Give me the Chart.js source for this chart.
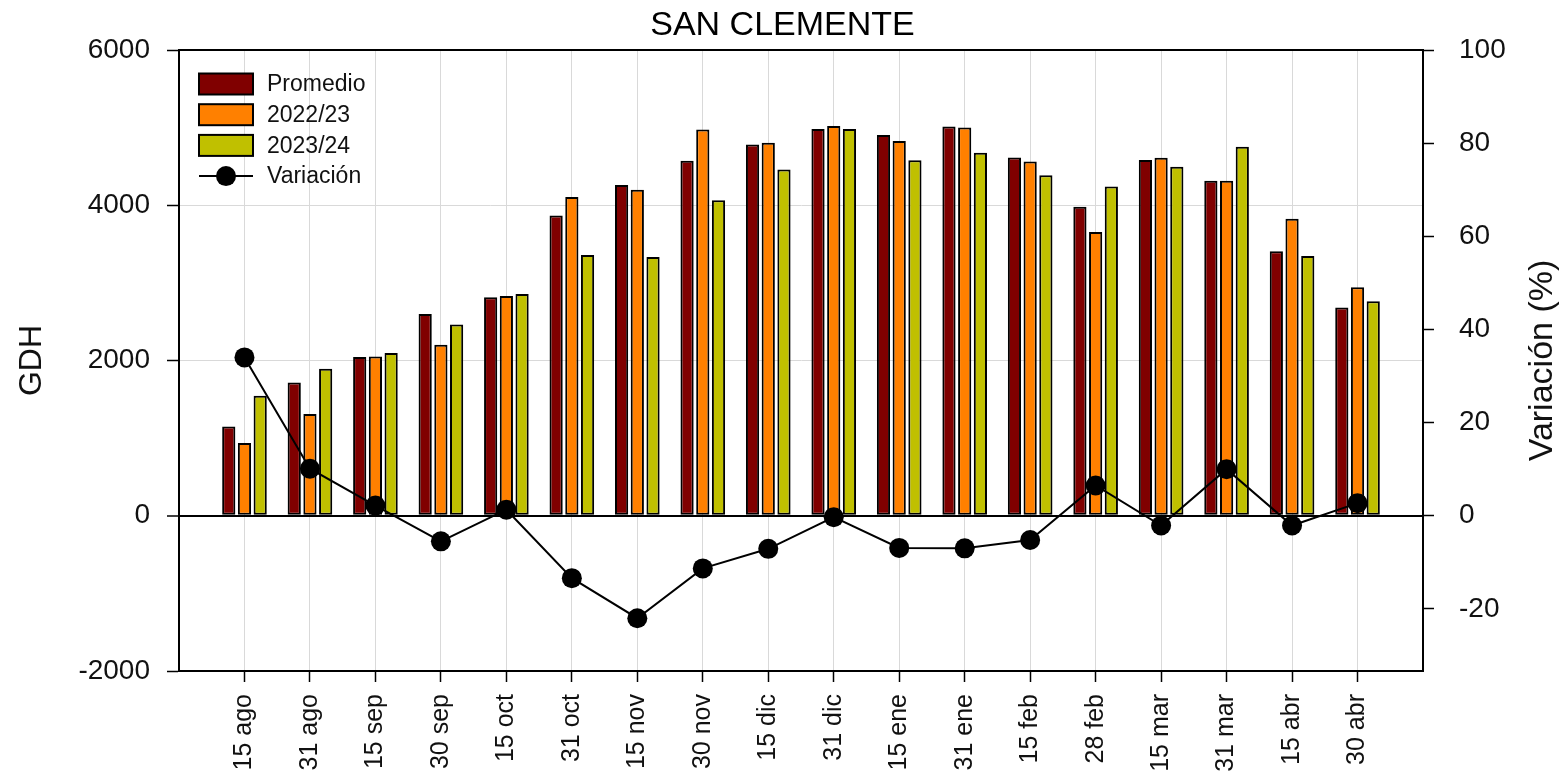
<!DOCTYPE html>
<html>
<head>
<meta charset="utf-8">
<script src="https://cdn.jsdelivr.net/npm/chart.js@4"></script>
<style>
  body { margin: 0; background: #fff; }
  #wrap { width: 1565px; height: 784px; }
</style>
</head>
<body>
<div id="wrap"><canvas id="gdhChart"></canvas></div>
<script>
// fechas (categorias del eje x)
const fechas = ['15 ago', '31 ago', '15 sep', '30 sep', '15 oct', '31 oct', '15 nov', '30 nov', '15 dic',
    '31 dic', '15 ene', '31 ene', '15 feb', '28 feb', '15 mar', '31 mar', '15 abr', '30 abr'];

// GDH acumulados
const promedio = [1150, 1717, 2044, 2598, 2815, 3868, 4260, 4572, 4782, 4982, 4905, 5015, 4614, 3980, 4583, 4316, 3407, 2683];
const temp2223 = [936, 1310, 2052, 2203, 2830, 4105, 4199, 4977, 4805, 5020, 4829, 5001, 4562, 3656, 4611, 4316, 3826, 2945];
const temp2324 = [1546, 1894, 2096, 2464, 2856, 3358, 3332, 4066, 4462, 4982, 4581, 4676, 4385, 4242, 4497, 4754, 3345, 2764];

// variacion (%) 2023/24 vs promedio
const variacion = [34.0, 10.1, 2.2, -5.5, 1.3, -13.4, -22.0, -11.3, -7.1, -0.3, -6.9, -7.0, -5.2, 6.5, -2.1, 10.0, -2.1, 2.7];

const gdhTicks = [-2000, 0, 2000, 4000, 6000];
const varTicks = [-20, 0, 20, 40, 60, 80, 100];

const FONT = '"Liberation Sans", Arial, sans-serif';

// empty slot on each side so the groups sit one step in from the frame
const pad = arr => [null, ...arr, null];
const labels = ['', ...fechas, ''];
const lastIdx = labels.length - 1;

// frame, custom legend and right-hand axis title
const extras = {
    id: 'extras',
    afterDraw(chart) {
        const { ctx, chartArea } = chart;
        ctx.save();
        // top border
        ctx.strokeStyle = '#000';
        ctx.lineWidth = 2;
        ctx.beginPath();
        ctx.moveTo(chartArea.left, chartArea.top);
        ctx.lineTo(chartArea.right, chartArea.top);
        ctx.stroke();

        // legend inside the plot
        const x0 = chartArea.left + 20;
        const boxW = 54, boxH = 21;
        ctx.font = '23px ' + FONT;
        ctx.textBaseline = 'middle';
        ctx.textAlign = 'left';
        chart.data.datasets.forEach((ds, i) => {
            const y = chartArea.top + 34 + i * 30.7;
            if (ds.type === 'line') {
                ctx.strokeStyle = '#000';
                ctx.lineWidth = 2;
                ctx.beginPath();
                ctx.moveTo(x0, y);
                ctx.lineTo(x0 + boxW, y);
                ctx.stroke();
                ctx.fillStyle = '#000';
                ctx.beginPath();
                ctx.arc(x0 + boxW / 2, y, 10, 0, Math.PI * 2);
                ctx.fill();
            } else {
                ctx.fillStyle = ds.backgroundColor;
                ctx.fillRect(x0, y - boxH / 2, boxW, boxH);
                ctx.strokeStyle = '#000';
                ctx.lineWidth = 2;
                ctx.strokeRect(x0, y - boxH / 2, boxW, boxH);
            }
            ctx.fillStyle = '#111';
            ctx.fillText(ds.label, x0 + boxW + 14, y + 1);
        });

        // right axis title, reading bottom to top
        ctx.font = '34px ' + FONT;
        ctx.fillStyle = '#111';
        ctx.textAlign = 'center';
        ctx.translate(1543, (chartArea.top + chartArea.bottom) / 2);
        ctx.rotate(-Math.PI / 2);
        ctx.fillText('Variación (%)', 0, 0);
        ctx.restore();
    }
};

const canvas = document.getElementById('gdhChart');
new Chart(canvas.getContext('2d'), {
    data: {
        labels: labels,
        datasets: [
            {
                type: 'bar', label: 'Promedio', data: pad(promedio),
                backgroundColor: '#800000', borderColor: '#000', borderWidth: 2,
                borderSkipped: false, yAxisID: 'y', order: 1
            },
            {
                type: 'bar', label: '2022/23', data: pad(temp2223),
                backgroundColor: '#ff8000', borderColor: '#000', borderWidth: 2,
                borderSkipped: false, yAxisID: 'y', order: 1
            },
            {
                type: 'bar', label: '2023/24', data: pad(temp2324),
                backgroundColor: '#c0c000', borderColor: '#000', borderWidth: 2,
                borderSkipped: false, yAxisID: 'y', order: 1
            },
            {
                type: 'line', label: 'Variación', data: pad(variacion),
                borderColor: '#000', borderWidth: 2, pointRadius: 10,
                pointBackgroundColor: '#000', pointBorderWidth: 0,
                tension: 0, yAxisID: 'y1', order: 0
            }
        ]
    },
    options: {
        responsive: true,
        maintainAspectRatio: false,
        animation: false,
        layout: { padding: 0 },
        datasets: {
            bar: { categoryPercentage: 0.72, barPercentage: 0.84 }
        },
        scales: {
            x: {
                type: 'category',
                offset: false,
                grid: {
                    offset: false,
                    color: '#d9d9d9',
                    lineWidth: 1,
                    tickLength: 11,
                    tickWidth: 1.5,
                    tickColor: ctx => (ctx.index === 0 || ctx.index === lastIdx) ? 'rgba(0,0,0,0)' : '#000'
                },
                border: { color: '#000', width: 2 },
                ticks: {
                    autoSkip: false,
                    minRotation: 90,
                    maxRotation: 90,
                    padding: 12,
                    color: '#111',
                    font: { family: FONT, size: 25 }
                },
                afterFit: scale => { scale.height = 113; }
            },
            y: {
                type: 'linear',
                position: 'left',
                min: -2000,
                max: 6000,
                afterBuildTicks: scale => { scale.ticks = gdhTicks.map(v => ({ value: v })); },
                grid: {
                    color: ctx => ctx.tick && ctx.tick.value === 0 ? '#000' : '#d9d9d9',
                    lineWidth: ctx => ctx.tick && ctx.tick.value === 0 ? 2 : 1,
                    tickColor: '#000',
                    tickWidth: 1.5,
                    tickLength: 12
                },
                border: { color: '#000', width: 2 },
                ticks: {
                    padding: 17,
                    color: '#111',
                    font: { family: FONT, size: 28 },
                    callback: v => String(v)
                },
                title: {
                    display: true,
                    text: 'GDH',
                    color: '#111',
                    font: { family: FONT, size: 32 },
                    padding: { top: 13, bottom: 0 }
                },
                afterFit: scale => { scale.width = 179; }
            },
            y1: {
                type: 'linear',
                position: 'right',
                min: -100 / 3,
                max: 100,
                afterBuildTicks: scale => { scale.ticks = varTicks.map(v => ({ value: v })); },
                grid: {
                    drawOnChartArea: false,
                    tickColor: '#000',
                    tickWidth: 1.5,
                    tickLength: 11
                },
                border: { color: '#000', width: 2 },
                ticks: {
                    padding: 25,
                    color: '#111',
                    font: { family: FONT, size: 28 },
                    callback: v => String(v)
                },
                afterFit: scale => { scale.width = 142; }
            }
        },
        plugins: {
            legend: { display: false },
            tooltip: { enabled: false },
            title: {
                display: true,
                text: 'SAN CLEMENTE',
                color: '#000',
                font: { family: FONT, size: 34, weight: 'normal' },
                padding: { top: 5, bottom: 4.2 }
            }
        }
    },
    plugins: [extras]
});
</script>
</body>
</html>
